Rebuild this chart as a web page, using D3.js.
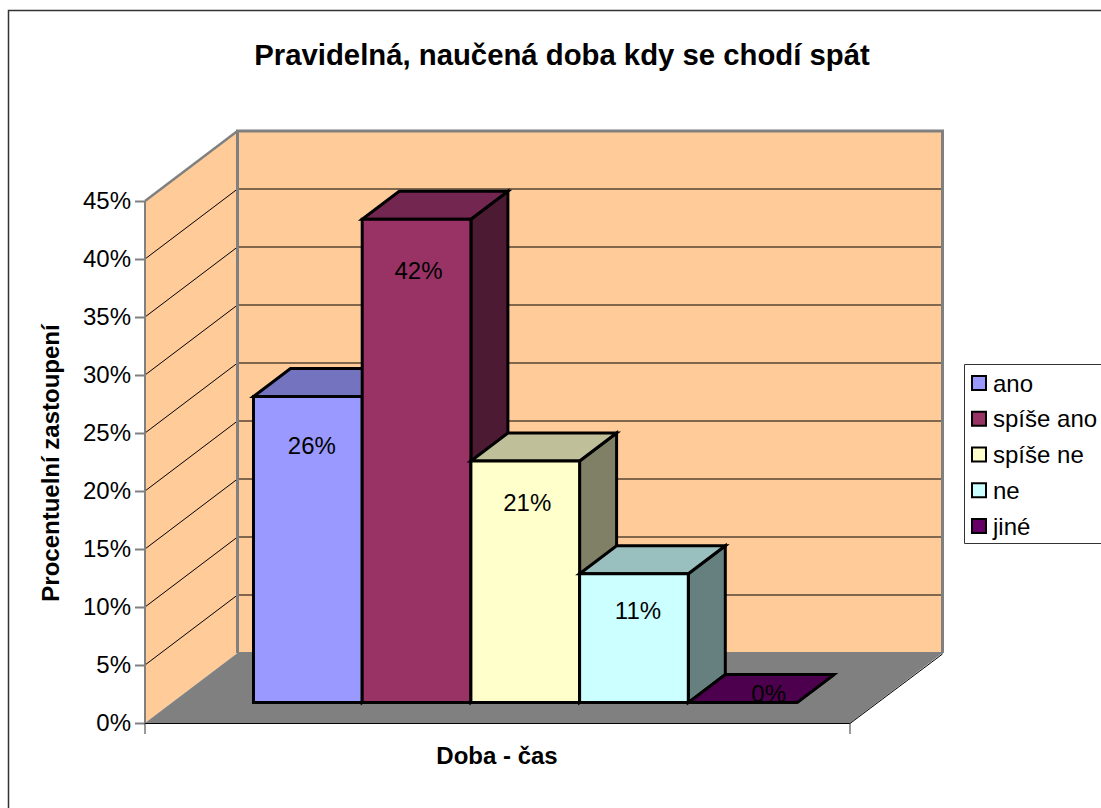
<!DOCTYPE html>
<html>
<head>
<meta charset="utf-8">
<script src="https://cdnjs.cloudflare.com/ajax/libs/d3/7.8.5/d3.min.js"></script>
<style>
  html, body { margin: 0; padding: 0; background: #fff; }
  svg { display: block; }
  text { font-family: "Liberation Sans", Arial, sans-serif; fill: #000; }
</style>
</head>
<body>
<svg id="chart" width="1101" height="808"></svg>
<script>
// Survey answers and their shares
const titleText = "Pravidelná, naučená doba kdy se chodí spát";
const yAxisTitle = "Procentuelní zastoupení";
const xAxisTitle = "Doba - čas";
const categories = ["ano", "spíše ano", "spíše ne", "ne", "jiné"];
const shares = [19 / 72, 30 / 72, 15 / 72, 8 / 72, 0];
const yTicks = [0, 0.05, 0.1, 0.15, 0.2, 0.25, 0.3, 0.35, 0.4, 0.45];
const frontColors = ["#9999FF", "#993366", "#FFFFCC", "#CCFFFF", "#660066"];
const topColors = ["#7373BF", "#732650", "#BFBF99", "#99BFBF", "#4D004D"];
const sideColors = ["#4D4D80", "#4D1A33", "#808066", "#668080", "#330033"];

const svg = d3.select("#chart");
const pct = d3.format(".0%");
const textSize = 24;

// Front plane of the 3D box; the back wall is the same plane shifted by the depth
const y = d3.scaleLinear().domain([0, 0.45]).range([723, 201]);
const plot = { left: 145, right: 850, dx: 92.5, dy: -70 };
const barBase = { dy: -20.4, dx: 37, depthY: -28 };
const x = d3.scaleBand().domain(categories).range([253.5, 797]);
const line = d3.line();

// Chart frame: open on the right and at the bottom
svg.append("path").attr("d", "M8.5,808V10.5H1101")
  .attr("fill", "none").attr("stroke", "#333").attr("stroke-width", 1.5);

// Walls
const backX0 = plot.left + plot.dx, backX1 = plot.right + plot.dx;
const backY = v => y(v) + plot.dy;
svg.append("path").attr("fill", "#FFCC99").attr("d", line([
  [plot.left, y(0.45)], [backX0, backY(0.45)], [backX1, backY(0.45)],
  [backX1, backY(0)], [backX0, backY(0)], [plot.left, y(0)]
]) + "Z");

// Floor
svg.append("path").attr("fill", "#808080").attr("d", line([
  [plot.left, y(0)], [backX0, backY(0)], [backX1, backY(0)], [plot.right, y(0)]
]) + "Z");

// Gridlines across the side and back walls
yTicks.filter(v => v > 0 && v < 0.45).forEach(v => {
  svg.append("path").attr("fill", "none").attr("stroke", "#000").attr("stroke-width", 1)
    .attr("d", line([[plot.left, y(v)], [backX0, backY(v)], [backX1, backY(v)]]));
});

// Wall edges
svg.append("path").attr("fill", "none").attr("stroke", "#808080").attr("stroke-width", 3)
  .attr("d", line([[backX0, backY(0)], [backX0, backY(0.45)], [backX1, backY(0.45)], [backX1, backY(0)]]));
svg.append("path").attr("fill", "none").attr("stroke", "#808080").attr("stroke-width", 2.5)
  .attr("d", line([[plot.left, y(0.45)], [backX0, backY(0.45)]]));
svg.append("path").attr("fill", "none").attr("stroke", "#808080").attr("stroke-width", 2)
  .attr("d", line([[backX0, backY(0)], [backX1, backY(0)]]));

// Front floor edges
svg.append("path").attr("fill", "none").attr("stroke", "#000").attr("stroke-width", 1)
  .attr("d", line([[plot.left, y(0) + 0.5], [plot.right, y(0) + 0.5], [backX1, backY(0) + 1]]));

// Bars, drawn left to right so that each front face overlaps its neighbour's side
const bars = svg.append("g").attr("stroke", "#000").attr("stroke-width", 3).attr("stroke-linejoin", "miter");
categories.forEach((c, i) => {
  const x0 = x(c), x1 = x0 + x.bandwidth();
  const yBase = y(0) + barBase.dy, yTop = y(shares[i]) + barBase.dy;
  const dx = barBase.dx, dy = barBase.depthY;
  bars.append("path").attr("fill", sideColors[i])
    .attr("d", line([[x1, yBase], [x1 + dx, yBase + dy], [x1 + dx, yTop + dy], [x1, yTop]]) + "Z");
  bars.append("path").attr("fill", topColors[i])
    .attr("d", line([[x0, yTop], [x0 + dx, yTop + dy], [x1 + dx, yTop + dy], [x1, yTop]]) + "Z");
  bars.append("path").attr("fill", frontColors[i])
    .attr("d", line([[x0, yBase], [x0, yTop], [x1, yTop], [x1, yBase]]) + "Z");
});

// Value labels sit inside each bar, a little below its top edge
const labelShift = [[4, 48.5], [2, 51.5], [2, 41.5], [4, 36.5], [26, -9.5]];
svg.append("g").selectAll("text").data(categories).join("text")
  .attr("x", (c, i) => x(c) + x.bandwidth() / 2 + labelShift[i][0])
  .attr("y", (c, i) => y(shares[i]) + barBase.dy + labelShift[i][1])
  .attr("dy", "0.36em").attr("text-anchor", "middle").attr("font-size", textSize)
  .text((c, i) => pct(shares[i]));

// Percentage axis
const axis = svg.append("g").attr("transform", `translate(${plot.left},0)`)
  .call(d3.axisLeft(y).tickValues(yTicks).tickFormat(pct).tickSize(10).tickPadding(4));
axis.selectAll("text").attr("font-size", textSize).attr("font-family", null);
axis.selectAll("line").attr("stroke", "#808080").attr("stroke-width", 2);
axis.select(".domain").attr("stroke", "#808080").attr("stroke-width", 2).attr("d", `M0,${y(0.45)}V${y(0)}`);

// Category axis end ticks
svg.append("path").attr("fill", "none").attr("stroke", "#333").attr("stroke-width", 1)
  .attr("d", `M${plot.left},${y(0)}v11M${plot.right},${y(0)}v11`);

// Titles
svg.append("text").attr("x", 562).attr("y", 54).attr("dy", "0.36em")
  .attr("text-anchor", "middle").attr("font-weight", "bold").attr("font-size", 29.3).text(titleText);
svg.append("text").attr("x", 497).attr("y", 755).attr("dy", "0.36em")
  .attr("text-anchor", "middle").attr("font-weight", "bold").attr("font-size", textSize).text(xAxisTitle);
svg.append("text").attr("transform", "translate(50,463) rotate(-90)").attr("dy", "0.36em")
  .attr("text-anchor", "middle").attr("font-weight", "bold").attr("font-size", textSize).text(yAxisTitle);

// Legend, running off the right edge
const legend = svg.append("g");
legend.append("path").attr("fill", "#fff").attr("stroke", "#333").attr("stroke-width", 1)
  .attr("d", "M1101,364.5H964.5V543.5H1101");
const rowY = d3.scalePoint().domain(categories).range([383, 526]);
categories.forEach((c, i) => {
  legend.append("rect").attr("x", 972).attr("y", rowY(c) - 7).attr("width", 14).attr("height", 14)
    .attr("fill", frontColors[i]).attr("stroke", "#000").attr("stroke-width", 2);
  legend.append("text").attr("x", 993).attr("y", rowY(c)).attr("dy", "0.36em")
    .attr("font-size", textSize).text(c);
});
</script>
</body>
</html>
